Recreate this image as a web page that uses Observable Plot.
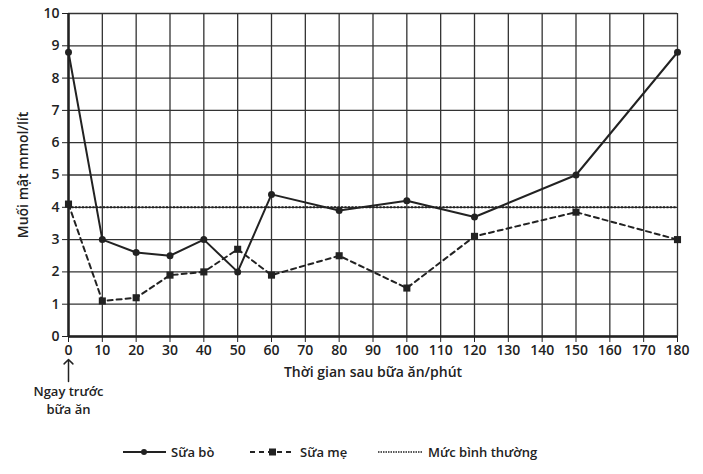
<!DOCTYPE html>
<html>
<head>
<meta charset="utf-8">
<script src="https://cdn.jsdelivr.net/npm/d3@7"></script>
<script src="https://cdn.jsdelivr.net/npm/@observablehq/plot@0.6"></script>
<style>
  body { margin: 0; background: #fff; font-family: "Open Sans", sans-serif; }
  #chart { width: 703px; }
  #legend { position: relative; width: 703px; height: 49px; font-family: "Open Sans", sans-serif; font-size: 13px; color: #222; font-weight: 600; }
  .item { position: absolute; top: 18px; display: flex; align-items: center; }
  .item svg { margin-right: 5px; }
</style>
</head>
<body>
<div id="chart"></div>
<div id="legend"></div>
<script>
const times = [0, 10, 20, 30, 40, 50, 60, 80, 100, 120, 150, 180];
const suaBo = [8.8, 3.0, 2.6, 2.5, 3.0, 2.0, 4.4, 3.9, 4.2, 3.7, 5.0, 8.8];
const suaMe = [4.1, 1.1, 1.2, 1.9, 2.0, 2.7, 1.9, 2.5, 1.5, 3.1, 3.85, 3.0];
const normalLevel = 4;
const xTicks = d3.range(0, 181, 10);
const yTicks = d3.range(0, 11, 1);
const seriesNames = ["Sữa bò", "Sữa mẹ", "Mức bình thường"];

const bo = times.map((t, i) => ({t, v: suaBo[i]}));
const me = times.map((t, i) => ({t, v: suaMe[i]}));
const ink = "#222";

const chart = Plot.plot({
  width: 703,
  height: 425,
  marginLeft: 68,
  marginRight: 26,
  marginTop: 13,
  marginBottom: 89,
  style: { fontFamily: "Open Sans, sans-serif", fontSize: "14px", color: ink, fontWeight: 600, background: "#fff" },
  x: { domain: [0, 180], ticks: xTicks },
  y: { domain: [0, 10], ticks: yTicks },
  marks: [
    Plot.gridX(xTicks, { stroke: "#333", strokeOpacity: 1, strokeWidth: 1.3 }),
    Plot.gridY(yTicks, { stroke: "#333", strokeOpacity: 1, strokeWidth: 1.3 }),
    Plot.axisX(xTicks, { tickSize: 6, tickPadding: 3, fontSize: 14, label: "Thời gian sau bữa ăn/phút", labelArrow: "none", labelAnchor: "center", labelOffset: 40, stroke: ink }),
    Plot.axisY(yTicks, { tickSize: 6, tickPadding: 3, fontSize: 14, label: "Muối mật mmol/lít", labelArrow: "none", labelAnchor: "center", labelOffset: 50, stroke: ink }),
    Plot.ruleY([0], { stroke: ink, strokeWidth: 2.5 }),
    Plot.ruleX([0], { stroke: ink, strokeWidth: 2.5 }),
    Plot.ruleY([normalLevel], { stroke: ink, strokeWidth: 2, strokeDasharray: "2,1.5" }),
    Plot.line(me, { x: "t", y: "v", stroke: ink, strokeWidth: 2, strokeDasharray: "5,4" }),
    Plot.dot(me, { x: "t", y: "v", symbol: "square", r: 4, fill: ink }),
    Plot.line(bo, { x: "t", y: "v", stroke: ink, strokeWidth: 2 }),
    Plot.dot(bo, { x: "t", y: "v", r: 3.5, fill: ink }),
    Plot.vector([0], { x: d => d, y: () => 0, dy: 45, length: 22, rotate: 0, anchor: "start", stroke: ink, strokeWidth: 1.5 }),
    Plot.text([0], { x: d => d, frameAnchor: "bottom", dy: 59, text: () => "Ngay trước", fontSize: 13, fill: ink }),
    Plot.text([0], { x: d => d, frameAnchor: "bottom", dy: 77, text: () => "bữa ăn", fontSize: 13, fill: ink })
  ]
});
document.getElementById("chart").appendChild(chart);

const legend = document.getElementById("legend");
const swatches = [
  `<svg width="43" height="10"><line x1="0" y1="5" x2="43" y2="5" stroke="${ink}" stroke-width="2"/><circle cx="21" cy="5" r="3" fill="${ink}"/></svg>`,
  `<svg width="45" height="10"><line x1="0" y1="5" x2="45" y2="5" stroke="${ink}" stroke-width="2" stroke-dasharray="5,4"/><rect x="19" y="1.5" width="7" height="7" fill="${ink}"/></svg>`,
  `<svg width="45" height="10"><line x1="0" y1="5" x2="45" y2="5" stroke="${ink}" stroke-width="1.5" stroke-dasharray="1.5,1"/></svg>`
];
const lefts = [123, 250, 378];
seriesNames.forEach((name, i) => {
  const d = document.createElement("div");
  d.className = "item";
  d.style.left = lefts[i] + "px";
  d.innerHTML = swatches[i] + `<span>${name}</span>`;
  legend.appendChild(d);
});
</script>
</body>
</html>
